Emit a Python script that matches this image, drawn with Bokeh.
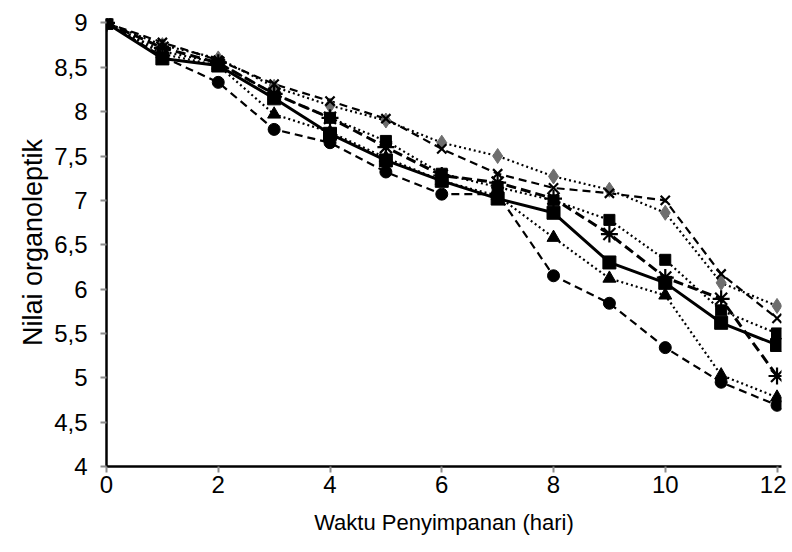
from bokeh.plotting import figure
from bokeh.models import Range1d, FixedTicker
from bokeh.embed import file_html
from bokeh.resources import INLINE

days = [0, 1, 2, 3, 4, 5, 6, 7, 8, 9, 10, 11, 12]

s_circle = [9.0, 8.62, 8.33, 7.80, 7.65, 7.32, 7.07, 7.07, 6.15, 5.84, 5.34, 4.95, 4.69]
s_triangle = [9.0, 8.65, 8.52, 7.97, 7.77, 7.48, 7.22, 7.05, 6.58, 6.12, 5.93, 5.03, 4.78]
s_square = [9.0, 8.60, 8.52, 8.15, 7.75, 7.45, 7.22, 7.02, 6.86, 6.30, 6.07, 5.62, 5.37]
s_square_dot = [9.0, 8.68, 8.55, 8.20, 7.93, 7.67, 7.30, 7.15, 7.00, 6.78, 6.33, 5.76, 5.50]
s_diamond = [9.0, 8.75, 8.60, 8.28, 8.07, 7.90, 7.65, 7.50, 7.27, 7.12, 6.86, 6.07, 5.81]
s_x = [9.0, 8.78, 8.58, 8.31, 8.12, 7.92, 7.58, 7.30, 7.14, 7.08, 7.00, 6.17, 5.67]
s_star = [9.0, 8.72, 8.55, 8.20, 7.93, 7.60, 7.28, 7.20, 7.02, 6.62, 6.13, 5.89, 5.02]

x_ticks = [0, 2, 4, 6, 8, 10, 12]
y_ticks = [4, 4.5, 5, 5.5, 6, 6.5, 7, 7.5, 8, 8.5, 9]
y_tick_labels = ["4", "4,5", "5", "5,5", "6", "6,5", "7", "7,5", "8", "8,5", "9"]

FONT = "Liberation Sans"

p = figure(width=786, height=544, output_backend="svg", toolbar_location=None,
           x_range=Range1d(0, 12.08), y_range=Range1d(4, 9.05),
           min_border_left=106, min_border_right=5, min_border_top=18, min_border_bottom=78)
p.outline_line_color = None
p.xgrid.grid_line_color = None
p.ygrid.grid_line_color = None
p.background_fill_color = "white"
p.border_fill_color = "white"

series = [
    (s_circle, "circle", "8 5", 2.2, "black", 12),
    (s_triangle, "triangle", "2 3", 2.2, "black", 13),
    (s_square_dot, "square", "2 3", 2.2, "black", 11),
    (s_diamond, "diamond", "2 3", 2.2, "#6e6e6e", 15),
    (s_x, "x", "8 5", 2.2, "black", 13),
    (s_star, "asterisk", "10 5", 3.0, "black", 17),
    (s_square, "square", "solid", 3.0, "black", 13),
]

for ys, marker, dash, lw, mcolor, size in series:
    p.line(days, ys, line_color="black", line_width=lw, line_dash=dash)

for ys, marker, dash, lw, mcolor, size in series:
    if marker in ("x", "asterisk"):
        p.scatter(days, ys, marker=marker, size=size, line_color=mcolor, line_width=2.2)
    else:
        p.scatter(days, ys, marker=marker, size=size, fill_color=mcolor, line_color=mcolor)

for ax in (p.xaxis[0], p.yaxis[0]):
    ax.axis_line_color = "black"
    ax.axis_line_width = 2.5
    ax.major_tick_line_color = "#8c8c8c"
    ax.major_tick_line_width = 2
    ax.major_tick_out = 6
    ax.major_tick_in = 0
    ax.minor_tick_line_color = None
    ax.major_label_text_font = FONT
    ax.major_label_text_font_size = "24px"
    ax.major_label_text_color = "black"
    ax.axis_label_text_font = FONT
    ax.axis_label_text_font_style = "normal"
    ax.axis_label_text_color = "black"

p.xaxis.ticker = FixedTicker(ticks=x_ticks)
p.yaxis.ticker = FixedTicker(ticks=y_ticks)
p.yaxis.major_label_overrides = {t: l for t, l in zip(y_ticks, y_tick_labels)}
p.xaxis.major_label_standoff = 3
p.yaxis.major_label_standoff = 13
p.xaxis.axis_label = "Waktu Penyimpanan (hari)"
p.yaxis.axis_label = "Nilai organoleptik"
p.xaxis.axis_label_text_font_size = "22px"
p.yaxis.axis_label_text_font_size = "27px"
p.xaxis.axis_label_standoff = 14
p.yaxis.axis_label_standoff = 3

open("out.html", "w").write(file_html(p, INLINE))
